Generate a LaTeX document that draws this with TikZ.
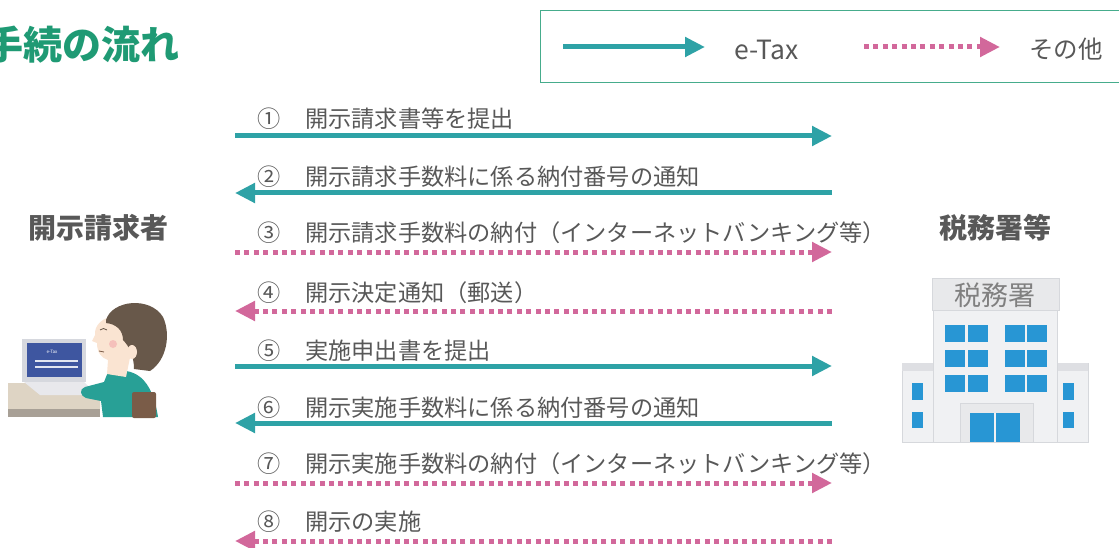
\documentclass[tikz,border=0pt]{standalone}
\usepackage{fontspec}
\setmainfont{Noto Sans CJK JP}
\usetikzlibrary{arrows.meta}

\definecolor{etaxcol}{RGB}{46,162,166}
\definecolor{othercol}{RGB}{210,104,155}
\definecolor{titlecol}{RGB}{31,154,116}
\definecolor{framecol}{RGB}{70,172,140}
\definecolor{txtcol}{RGB}{88,88,88}
\definecolor{deskcol}{RGB}{222,212,196}
\definecolor{deskedge}{RGB}{168,160,150}
\definecolor{moncol}{RGB}{214,216,222}
\definecolor{screencol}{RGB}{62,86,160}
\definecolor{basecol}{RGB}{232,232,236}
\definecolor{shirtcol}{RGB}{40,160,150}
\definecolor{chaircol}{RGB}{122,92,72}
\definecolor{skincol}{RGB}{250,228,210}
\definecolor{haircol}{RGB}{104,88,74}
\definecolor{cheekcol}{RGB}{244,178,178}
\definecolor{wallcol}{RGB}{240,241,243}
\definecolor{walledge}{RGB}{214,216,220}
\definecolor{signcol}{RGB}{232,233,235}
\definecolor{wincol}{RGB}{40,150,212}

\tikzset{
  etax/.style={draw=etaxcol, line width=5pt, -{Triangle[length=20pt,width=19pt]}},
  other/.style={draw=othercol, line width=5pt, dash pattern=on 5pt off 4.4pt,
                -{Triangle[length=20pt,width=19pt]}},
  steplabel/.style={anchor=west, inner sep=0pt, text=txtcol,
                    font=\fontsize{23.2}{25}\selectfont},
  actor/.style={text=txtcol, inner sep=0pt, font=\fontsize{28}{30}\selectfont\bfseries},
  legendtext/.style={anchor=west, inner sep=0pt, text=txtcol,
                     font=\fontsize{24.5}{26}\selectfont},
}

\begin{document}
\begin{tikzpicture}[x=1pt,y=-1pt]
\useasboundingbox (0,0) rectangle (1119,548);
\clip (0,0) rectangle (1119,548);

% heading
\node[anchor=east, inner sep=0pt, text=titlecol,
      font=\fontsize{39}{41}\selectfont\bfseries] (title) at (180,45) {手続の流れ};

% legend
\draw[framecol, line width=1pt] (540,11) rectangle (1130,83);
\coordinate (legA1) at (563,47);
\coordinate (legA2) at (705,47);
\coordinate (legB1) at (864,47);
\coordinate (legB2) at (1000,47);
\draw[etax] (legA1) -- (legA2);
\draw[other] (legB1) -- (legB2);
\node[legendtext, font=\fontsize{26.5}{28}\selectfont] (legA) at (734,50) {e-Tax};
\node[legendtext] (legB) at (1029,49) {その他};

% the two parties
\node[actor] (req) at (98,228) {開示請求者};
\node[actor] (tax) at (995,228) {税務署等};

% message ends on each side
\foreach \i/\y in {1/136,2/193,3/252,4/311,5/366,6/423,7/483,8/541}{
  \coordinate (L\i) at (235,\y);
  \coordinate (R\i) at (832,\y);
}

% messages
\draw[etax]  (L1) -- (R1);
\draw[etax]  (R2) -- (L2);
\draw[other] (L3) -- (R3);
\draw[other] (R4) -- (L4);
\draw[etax]  (L5) -- (R5);
\draw[etax]  (R6) -- (L6);
\draw[other] (L7) -- (R7);
\draw[other] (R8) -- (L8);

\node[steplabel] (m1) at (257,119) {①\hspace{25pt}開示請求書等を提出};
\node[steplabel] (m2) at (257,177) {②\hspace{25pt}開示請求手数料に係る納付番号の通知};
\node[steplabel] (m3) at (257,233) {③\hspace{25pt}開示請求手数料の納付（インターネットバンキング等）};
\node[steplabel] (m4) at (257,293) {④\hspace{25pt}開示決定通知（郵送）};
\node[steplabel] (m5) at (257,351) {⑤\hspace{25pt}実施申出書を提出};
\node[steplabel] (m6) at (257,408) {⑥\hspace{25pt}開示実施手数料に係る納付番号の通知};
\node[steplabel] (m7) at (257,464) {⑦\hspace{25pt}開示実施手数料の納付（インターネットバンキング等）};
\node[steplabel] (m8) at (257,522) {⑧\hspace{25pt}開示の実施};

% ---- requester at the computer ----
% desk
\fill[deskcol] (8,383) -- (78,383) -- (100,398) -- (100,409) -- (8,409) -- cycle;
\fill[deskedge] (8,409) rectangle (100,417);
% monitor
\fill[moncol] (22,339) rectangle (86,382);
\fill[screencol] (27,343) rectangle (82,377);
\node[text=white, inner sep=0pt, font=\fontsize{4.5}{5}\selectfont] (scr) at (52,352) {e-Tax};
\draw[white!85!screencol, line width=1.2pt] (35,361) -- (78,361) (35,367) -- (78,367);
% keyboard base
\fill[basecol] (24,382) -- (84,382) -- (98,395) -- (40,395) -- cycle;
% shirt and arm
\fill[shirtcol] (108,372) .. controls (135,366) and (152,378) .. (158,417)
   -- (103,417) -- (101,401) -- (86,398) .. controls (80,396) and (79,389) .. (85,387)
   -- (104,382) -- cycle;
% chair back
\fill[chaircol, rounded corners=2pt] (132,392) rectangle (156,418);
% face
\fill[skincol] (118,316) .. controls (102,316) and (94,326) .. (95,335)
   -- (92,341) -- (97,343) .. controls (97,352) and (101,358) .. (108,360)
   -- (107,374) -- (126,377) -- (132,348) -- cycle;
% hair
\fill[haircol] (106,320) .. controls (112,300) and (150,296) .. (163,317)
   .. controls (171,334) and (167,360) .. (150,371)
   -- (134,369) .. controls (134,356) and (129,346) .. (123,340)
   .. controls (123,330) and (116,324) .. (106,323) -- cycle;
% ear, cheek, eye, mouth
\fill[skincol] (132,352) ellipse (5pt and 7pt);
\fill[cheekcol, opacity=.7] (113,344) circle (4pt);
\draw[haircol, line width=.8pt] (100,330) .. controls (102,328) and (105,328) .. (107,330);
\draw[chaircol, line width=.8pt] (99,351) -- (104,352);

% ---- tax office building ----
% side wings
\fill[wallcol, draw=walledge] (902,363) rectangle (933,442);
\fill[wallcol, draw=walledge] (1057,363) rectangle (1088,442);
\fill[walledge!70!wallcol] (902,363) rectangle (933,371);
\fill[walledge!70!wallcol] (1057,363) rectangle (1088,371);
% main block and sign
\fill[wallcol, draw=walledge] (933,310) rectangle (1057,442);
\fill[signcol, draw=walledge] (932,278) rectangle (1059,310);
\node[text=black!50, inner sep=0pt, font=\fontsize{27}{29}\selectfont] (sign) at (995,295) {税務署};
% windows of the main block
\foreach \x in {945,968,1005,1027}{
  \foreach \y in {325,350,375}{
    \fill[wincol] (\x,\y) rectangle ++(20,17);
  }
}
% windows of the wings
\foreach \x in {912,1063}{
  \fill[wincol] (\x,383) rectangle ++(11,17);
  \fill[wincol] (\x,412) rectangle ++(11,16);
}
% entrance
\fill[signcol, draw=walledge] (960,403) rectangle (1033,442);
\fill[wincol] (970,413) rectangle (1020,442);
\draw[wallcol, line width=1.5pt] (995,413) -- (995,442);
\end{tikzpicture}
\end{document}
